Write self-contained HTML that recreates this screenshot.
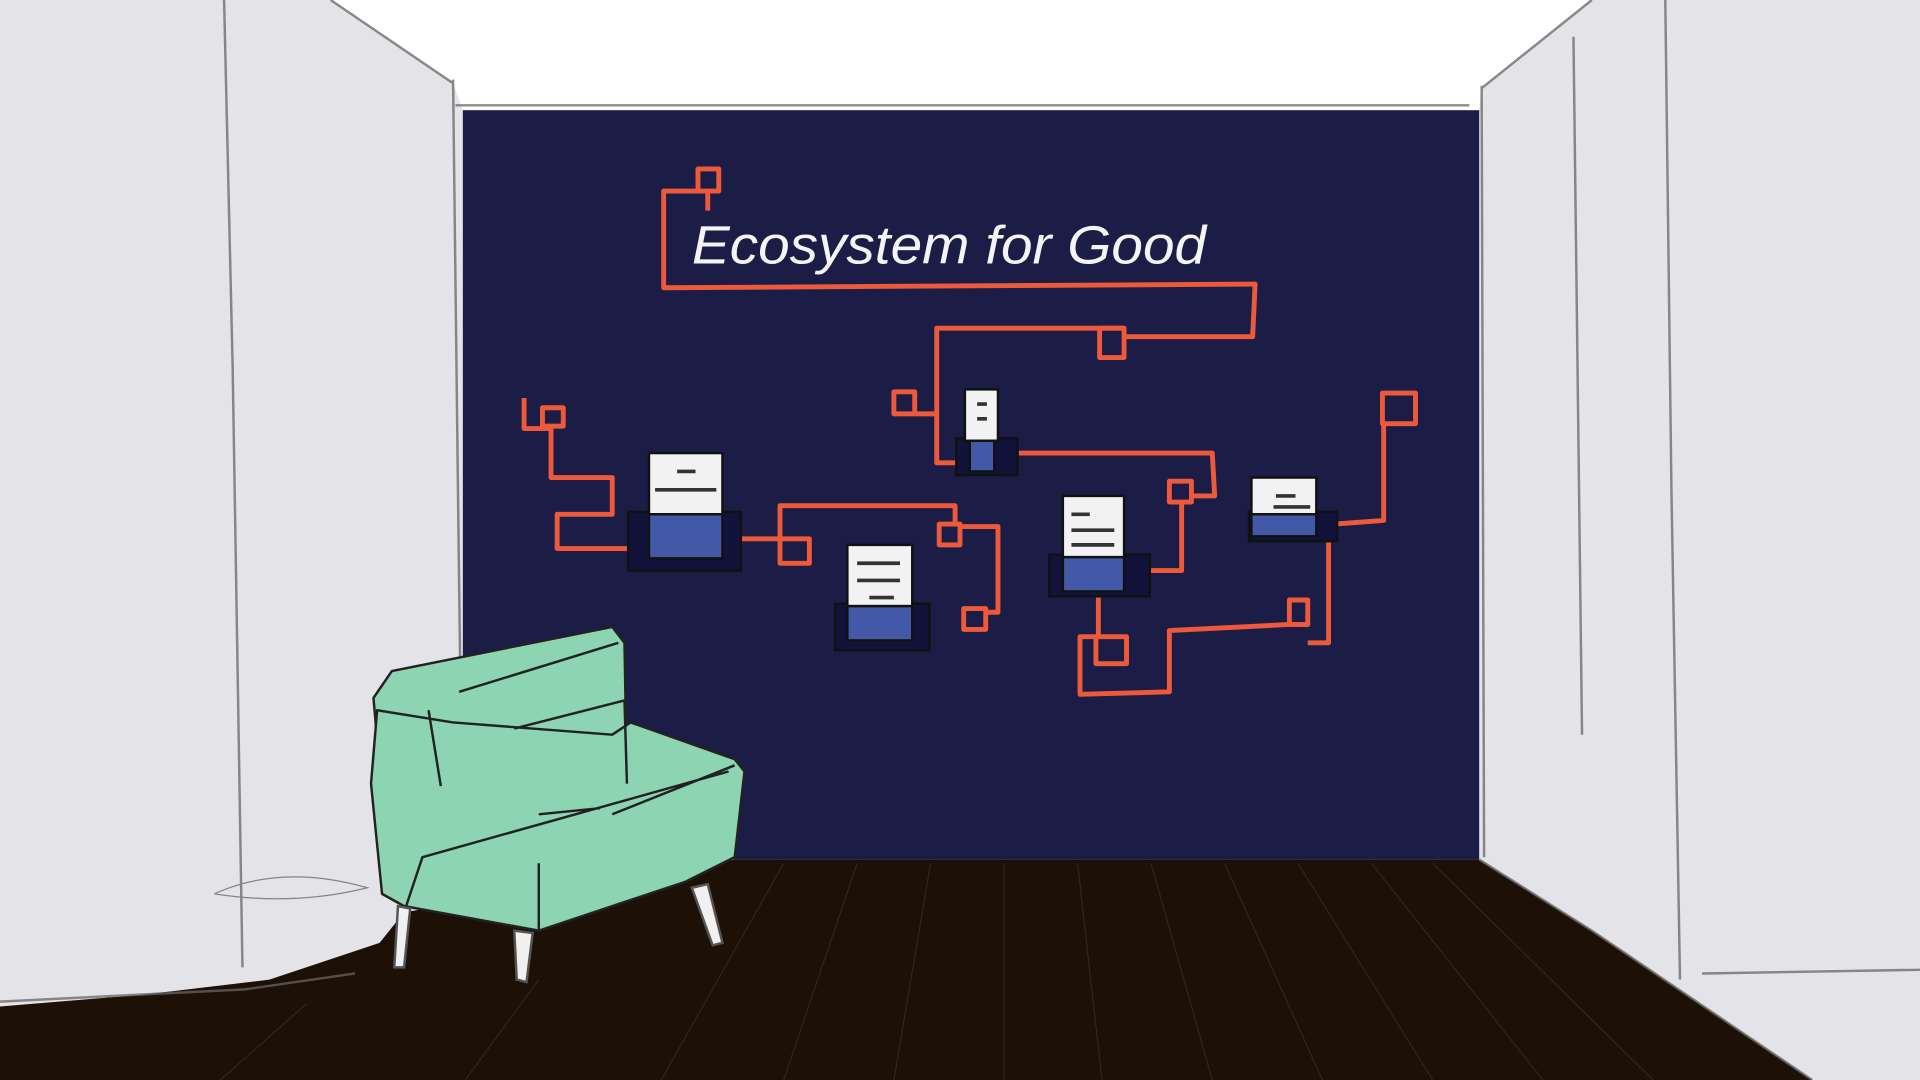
<!DOCTYPE html>
<html><head><meta charset="utf-8"><style>
html,body{margin:0;padding:0;width:1920px;height:1080px;overflow:hidden;background:#e3e3e8}
svg{display:block}
</style></head><body>
<svg width="1920" height="1080" viewBox="0 0 1568 882" preserveAspectRatio="none" xmlns="http://www.w3.org/2000/svg">
<rect width="1568" height="882" fill="#e3e3e8"/>
<!-- ceiling -->
<polygon points="270,0 1300,0 1210,72 1208,90 378,90 370,68" fill="#ffffff"/>
<!-- navy wall -->
<rect x="378" y="90" width="830" height="612" fill="#1b1d46"/>
<!-- floor -->
<polygon points="0,822 120,812 220,800 310,770 330,745 600,702 1208,702 1300,760 1480,882 0,882" fill="#1d1006"/>
<g stroke="#3a2a1e" stroke-width="1" fill="none" opacity="0.8">
<path d="M700,705 L640,882 M760,705 L730,882 M820,705 L820,882 M880,705 L900,882 M940,705 L990,882 M1000,705 L1080,882 M1060,705 L1170,882 M1120,705 L1260,882 M1170,705 L1350,882 M640,705 L540,882 M440,800 L380,882 M250,820 L180,882"/>
</g>
<!-- sketch lines walls -->
<g stroke="#666" stroke-width="2" fill="none" opacity="0.75">
<path d="M183,0 L190,300 L198,790"/>
<path d="M370,65 L374,400 L378,720"/>
<path d="M270,0 L370,68"/>
<path d="M1300,0 L1210,72"/>
<path d="M1210,70 L1212,700"/>
<path d="M1360,0 L1365,400 L1372,800"/>
<path d="M1285,30 L1292,600"/>
<path d="M1390,795 L1568,792"/>
<path d="M1208,702 L1300,760 L1480,882"/>
<path d="M0,818 L200,808 L290,795"/>
<path d="M372,86 L1200,86"/>
<path d="M175,730 Q230,705 300,725 Q240,740 175,730" stroke-width="1"/>
</g>
<!-- orange connectors -->
<g stroke="#ec5a3b" stroke-width="4" fill="none" stroke-linejoin="round">
<rect x="570" y="138" width="17" height="18"/>
<path d="M578,156 L578,172 M570,156 L542,156 L542,235 L1025,232 L1023,275 L918,275"/>
<rect x="898" y="268" width="20" height="24"/>
<path d="M918,268 L765,268 L765,378 L785,378"/>
<rect x="730" y="320" width="17" height="18"/>
<path d="M747,338 L765,338"/>
<path d="M832,370 L990,370 L992,405 L973,405"/>
<rect x="955" y="393" width="18" height="17"/>
<path d="M965,410 L965,466 L940,466"/>
<rect x="443" y="333" width="17" height="15"/>
<path d="M428,325 L428,350 L450,350 L450,390 L500,390 L500,420 L455,420 L455,448 L515,448"/>
<path d="M605,440 L637,440 L637,413 L780,413 L780,430"/>
<rect x="637" y="440" width="24" height="20"/>
<rect x="767" y="428" width="17" height="17"/>
<path d="M784,430 L815,430 L815,500 L805,500"/>
<rect x="787" y="497" width="18" height="17"/>
<rect x="1129" y="321" width="27" height="25"/>
<path d="M1130,346 L1130,425 L1090,428"/>
<path d="M1085,432 L1085,525 L1068,525"/>
<rect x="1053" y="490" width="15" height="20"/>
<path d="M1053,510 L955,515 L955,565 L882,567 L882,520 L895,520"/>
<rect x="895" y="520" width="25" height="22"/>
<path d="M897,485 L897,520"/>
</g>
<!-- cards -->
<g stroke="#111" stroke-width="2">
<rect x="513" y="418" width="92" height="48" fill="#11133a"/>
<rect x="530" y="370" width="60" height="50" fill="#f2f2f2"/>
<rect x="530" y="420" width="60" height="36" fill="#4458a8"/>
<rect x="682" y="493" width="77" height="38" fill="#11133a"/>
<rect x="692" y="445" width="53" height="50" fill="#f2f2f2"/>
<rect x="692" y="495" width="53" height="28" fill="#4458a8"/>
<rect x="781" y="358" width="50" height="30" fill="#11133a"/>
<rect x="788" y="318" width="27" height="42" fill="#f2f2f2"/>
<rect x="792" y="360" width="20" height="25" fill="#4458a8"/>
<rect x="857" y="453" width="82" height="34" fill="#11133a"/>
<rect x="868" y="405" width="50" height="50" fill="#f2f2f2"/>
<rect x="868" y="455" width="50" height="28" fill="#4458a8"/>
<rect x="1020" y="418" width="72" height="24" fill="#11133a"/>
<rect x="1022" y="390" width="53" height="30" fill="#f2f2f2"/>
<rect x="1022" y="420" width="53" height="18" fill="#4458a8"/>
</g>
<g stroke="#333" stroke-width="3">
<path d="M553,385 L568,385 M535,400 L585,400 M875,420 L890,420 M875,433 L910,433 M875,445 L910,445 M700,460 L735,460 M700,474 L735,474 M710,488 L730,488 M798,330 L806,330 M798,342 L806,342 M1042,405 L1058,405 M1040,414 L1070,414"/>
</g>
<!-- title -->
<text x="565" y="215" fill="#f4f4f4" font-family="'Liberation Sans', sans-serif" font-size="44" font-style="italic" textLength="420" lengthAdjust="spacingAndGlyphs">Ecosystem for Good</text>
<!-- chair -->
<g stroke="#222" stroke-width="2" stroke-linejoin="round">
<polygon points="305,570 320,548 500,512 510,525 512,640 312,650" fill="#8dd4b2"/>
<polygon points="303,640 308,580 370,590 500,600 515,590 600,620 608,630 600,700 560,720 440,760 330,740 312,730" fill="#8dd4b2"/>
<path d="M375,565 L505,525 M350,580 L360,642 M420,595 L510,572 L512,640 M440,665 L490,660 M330,745 L345,700 L595,630 M440,705 L440,760 M500,665 L600,625" fill="none"/>
</g>
<g stroke="#555" stroke-width="2" fill="#f0f0f0">
<polygon points="325,740 335,742 330,790 322,790"/>
<polygon points="420,760 435,762 430,802 422,800"/>
<polygon points="565,725 578,722 590,770 582,772"/>
</g>
</svg>
</body></html>
